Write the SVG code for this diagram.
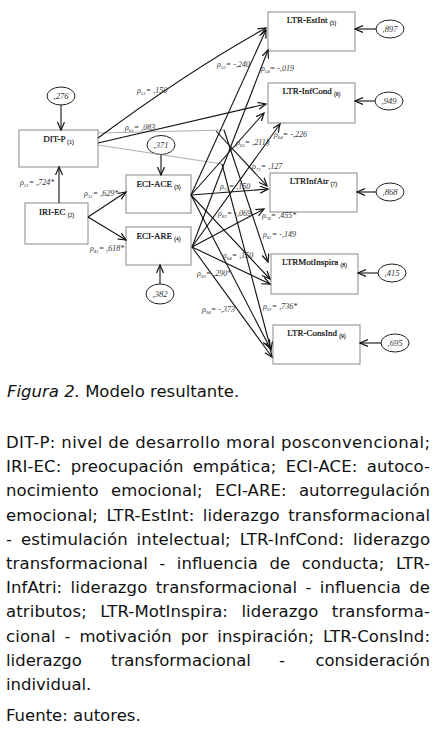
<svg xmlns="http://www.w3.org/2000/svg" width="436" height="731" viewBox="0 0 436 731">
<style>
.box{fill:#fff;stroke:#8a8a8a;stroke-width:1}
.bt{font-family:"Liberation Serif",serif;font-size:9px;fill:#000;stroke:#000;stroke-width:0.2;text-anchor:middle}
.sb{font-size:5.5px;stroke-width:0.1}
.el{fill:#fff;stroke:#222;stroke-width:1}
.et{font-family:"Liberation Serif",serif;font-style:italic;font-size:8.5px;fill:#333;text-anchor:middle}
.c{fill:none;stroke:#111;stroke-width:1.1;marker-end:url(#ah)}
.g{fill:none;stroke:#9a9a9a;stroke-width:0.8}
.lb{font-family:"Liberation Serif",serif;font-style:italic;font-size:8px;fill:#333}
.ls{font-size:5px}
.tx{font-family:"DejaVu Sans",sans-serif;font-size:16.5px;fill:#111}
</style>
<defs>
<marker id="ah" markerUnits="userSpaceOnUse" markerWidth="10" markerHeight="10" refX="8" refY="4" orient="auto">
<path d="M0,0.5 L8,4 L0,7.5" fill="none" stroke="#111" stroke-width="1.2"/>
</marker>
</defs>
<rect width="436" height="731" fill="#fff"/>

<g id="n1"><rect class="box" x="19" y="130" width="79" height="37"/><text class="bt" x="58.5" y="142">DIT-P <tspan class="sb" dy="1.5">(1)</tspan></text></g>
<g id="n2"><rect class="box" x="25" y="203" width="63" height="41"/><text class="bt" x="56.5" y="215">IRI-EC <tspan class="sb" dy="1.5">(2)</tspan></text></g>
<g id="n3"><rect class="box" x="126" y="175" width="65" height="38"/><text class="bt" x="158.5" y="187">ECI-ACE <tspan class="sb" dy="1.5">(3)</tspan></text></g>
<g id="n4"><rect class="box" x="126" y="227" width="65" height="38"/><text class="bt" x="158.5" y="239">ECI-ARE <tspan class="sb" dy="1.5">(4)</tspan></text></g>
<g id="n5"><rect class="box" x="268" y="12" width="87" height="39"/><text class="bt" x="311.5" y="23">LTR-EstInt <tspan class="sb" dy="1.5">(5)</tspan></text></g>
<g id="n6"><rect class="box" x="268" y="83" width="87" height="40"/><text class="bt" x="311.5" y="94">LTR-InfCond <tspan class="sb" dy="1.5">(6)</tspan></text></g>
<g id="n7"><rect class="box" x="270" y="173" width="87" height="39"/><text class="bt" x="313.5" y="184">LTRInfAtr <tspan class="sb" dy="1.5">(7)</tspan></text></g>
<g id="n8"><rect class="box" x="271" y="254" width="87" height="40"/><text class="bt" x="314.5" y="265">LTRMotInspira <tspan class="sb" dy="1.5">(8)</tspan></text></g>
<g id="n9"><rect class="box" x="273" y="325" width="87" height="39"/><text class="bt" x="316.5" y="336">LTR-ConsInd <tspan class="sb" dy="1.5">(9)</tspan></text></g>

<g id="e1"><ellipse class="el" cx="61" cy="96" rx="14" ry="9"/><text class="et" x="61" y="99">,276</text></g>
<g id="e3"><ellipse class="el" cx="161" cy="145" rx="14" ry="9.5"/><text class="et" x="161" y="148">,371</text></g>
<g id="e4"><ellipse class="el" cx="160" cy="294" rx="14" ry="10"/><text class="et" x="160" y="297">,382</text></g>
<g id="e5"><ellipse class="el" cx="390" cy="29" rx="14" ry="9"/><text class="et" x="390" y="32">,897</text></g>
<g id="e6"><ellipse class="el" cx="389" cy="101" rx="14" ry="9"/><text class="et" x="389" y="104">,949</text></g>
<g id="e7"><ellipse class="el" cx="390" cy="192" rx="14" ry="9"/><text class="et" x="390" y="195">,868</text></g>
<g id="e8"><ellipse class="el" cx="392" cy="273" rx="14" ry="9"/><text class="et" x="392" y="276">,415</text></g>
<g id="e9"><ellipse class="el" cx="395" cy="343" rx="14" ry="9"/><text class="et" x="395" y="346">,695</text></g>

<g id="connectors">
<path class="g" d="M98,133 L224,130"/>
<path class="g" d="M98,145 L222,164"/>
<path class="c" d="M61,105 L61,130"/>
<path class="c" d="M59,203 L59,167"/>
<path class="c" d="M161,154.5 L161,175"/>
<path class="c" d="M160,284 L160,265"/>
<path class="c" d="M376,29 L355,29"/>
<path class="c" d="M375,101 L355,101"/>
<path class="c" d="M376,192 L357,192"/>
<path class="c" d="M378,273 L358,273"/>
<path class="c" d="M381,343 L360,343"/>
<path class="c" d="M88,217 L126,192"/>
<path class="c" d="M88,217 L126,240"/>
<path class="c" d="M98,138 Q190,70 266,28"/>
<path class="c" d="M98,143 L266,104"/>
<path class="c" d="M216,131 L267,186"/>
<path class="c" d="M224,130 L268,262"/>
<path class="c" d="M222,164 L271,350"/>
<path class="c" d="M191,195 L266,30"/>
<path class="c" d="M191,195 L264,113"/>
<path class="c" d="M191,195 L268,189"/>
<path class="c" d="M191,195 L270,279"/>
<path class="c" d="M191,195 L270,348"/>
<path class="c" d="M192,247 L268,50"/>
<path class="c" d="M192,247 L280,124"/>
<path class="c" d="M192,247 L264,209"/>
<path class="c" d="M192,247 L270,284"/>
<path class="c" d="M192,247 L272,357"/>
</g>

<g id="labels">
<text class="lb" x="20" y="185">ρ<tspan class="ls" dy="1.5">21</tspan><tspan dy="-1.5">= ,724*</tspan></text>
<text class="lb" x="84" y="196">ρ<tspan class="ls" dy="1.5">31</tspan><tspan dy="-1.5">= ,629*</tspan></text>
<text class="lb" x="90" y="251">ρ<tspan class="ls" dy="1.5">41</tspan><tspan dy="-1.5">= ,618*</tspan></text>
<text class="lb" x="137" y="93">ρ<tspan class="ls" dy="1.5">51</tspan><tspan dy="-1.5">= ,150</tspan></text>
<text class="lb" x="125" y="130">ρ<tspan class="ls" dy="1.5">61</tspan><tspan dy="-1.5">= ,083</tspan></text>
<text class="lb" x="217" y="67">ρ<tspan class="ls" dy="1.5">53</tspan><tspan dy="-1.5">= -,240</tspan></text>
<text class="lb" x="261" y="71">ρ<tspan class="ls" dy="1.5">54</tspan><tspan dy="-1.5">= -,019</tspan></text>
<text class="lb" x="236" y="145">ρ<tspan class="ls" dy="1.5">63</tspan><tspan dy="-1.5">= ,211§</tspan></text>
<text class="lb" x="274" y="137">ρ<tspan class="ls" dy="1.5">64</tspan><tspan dy="-1.5">= -,226</tspan></text>
<text class="lb" x="252" y="169">ρ<tspan class="ls" dy="1.5">71</tspan><tspan dy="-1.5">= ,127</tspan></text>
<text class="lb" x="220" y="189">ρ<tspan class="ls" dy="1.5">73</tspan><tspan dy="-1.5">= ,150</tspan></text>
<text class="lb" x="218" y="216">ρ<tspan class="ls" dy="1.5">83</tspan><tspan dy="-1.5">= -,069</tspan></text>
<text class="lb" x="262" y="218">ρ<tspan class="ls" dy="1.5">74</tspan><tspan dy="-1.5">= ,455*</tspan></text>
<text class="lb" x="263" y="237">ρ<tspan class="ls" dy="1.5">81</tspan><tspan dy="-1.5">= -,149</tspan></text>
<text class="lb" x="223" y="258">ρ<tspan class="ls" dy="1.5">84</tspan><tspan dy="-1.5">= ,150</tspan></text>
<text class="lb" x="197" y="276">ρ<tspan class="ls" dy="1.5">93</tspan><tspan dy="-1.5">= ,290*</tspan></text>
<text class="lb" x="202" y="312">ρ<tspan class="ls" dy="1.5">94</tspan><tspan dy="-1.5">= -,373</tspan></text>
<text class="lb" x="263" y="309">ρ<tspan class="ls" dy="1.5">91</tspan><tspan dy="-1.5">= ,736*</tspan></text>
</g>

<g id="caption">
<text class="tx" x="7" y="397"><tspan font-style="italic">Figura 2.</tspan> Modelo resultante.</text>
<text class="tx" x="6" y="448" textLength="424" lengthAdjust="spacing">DIT-P: nivel de desarrollo moral posconvencional;</text>
<text class="tx" x="6" y="472.2" word-spacing="4" textLength="424" lengthAdjust="spacing">IRI-EC: preocupación empática; ECI-ACE: autoco-</text>
<text class="tx" x="6" y="496.4" word-spacing="7" textLength="424" lengthAdjust="spacing">nocimiento emocional; ECI-ARE: autorregulación</text>
<text class="tx" x="6" y="520.6" word-spacing="3" textLength="424" lengthAdjust="spacing">emocional; LTR-EstInt: liderazgo transformacional</text>
<text class="tx" x="6" y="544.8" word-spacing="3.5" textLength="424" lengthAdjust="spacing">- estimulación intelectual; LTR-InfCond: liderazgo</text>
<text class="tx" x="6" y="569" word-spacing="6" textLength="424" lengthAdjust="spacing">transformacional - influencia de conducta; LTR-</text>
<text class="tx" x="6" y="593.2" word-spacing="3" textLength="424" lengthAdjust="spacing">InfAtri: liderazgo transformacional - influencia de</text>
<text class="tx" x="6" y="617.4" word-spacing="8" textLength="424" lengthAdjust="spacing">atributos; LTR-MotInspira: liderazgo transforma-</text>
<text class="tx" x="6" y="641.6" word-spacing="3.5" textLength="424" lengthAdjust="spacing">cional - motivación por inspiración; LTR-ConsInd:</text>
<text class="tx" y="665.8"><tspan x="6">liderazgo</tspan><tspan x="111">transformacional</tspan><tspan x="279">-</tspan><tspan x="430" text-anchor="end">consideración</tspan></text>
<text class="tx" x="6" y="690">individual.</text>
<text class="tx" x="6" y="721">Fuente: autores.</text>
</g>
</svg>
